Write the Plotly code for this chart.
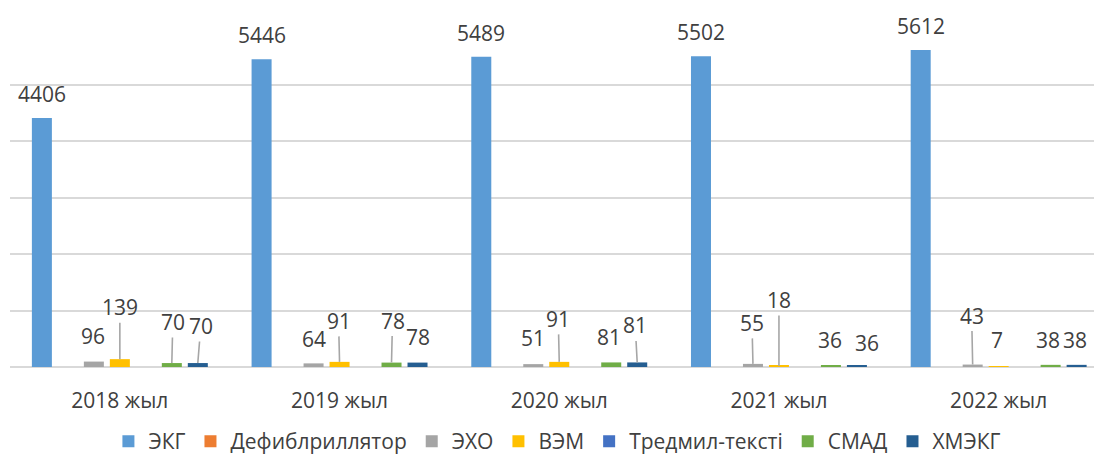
import plotly.graph_objects as go

# Data
years = ["2018 жыл", "2019 жыл", "2020 жыл", "2021 жыл", "2022 жыл"]
series_names = ["ЭКГ", "Дефиблриллятор", "ЭХО", "ВЭМ", "Тредмил-тексті", "СМАД", "ХМЭКГ"]
ekg = [4406, 5446, 5489, 5502, 5612]
defib = [None, None, None, None, None]
echo = [96, 64, 51, 55, 43]
vem = [139, 91, 91, 18, 7]
tredmil = [None, None, None, None, None]
smad = [70, 78, 81, 36, 38]
hmekg = [70, 78, 81, 36, 38]

series_values = [ekg, defib, echo, vem, tredmil, smad, hmekg]
colors = ["#5B9BD5", "#ED7D31", "#A5A5A5", "#FFC000", "#4472C4", "#70AD47", "#255E91"]

# Label placement (pixel offset of label centre from bar top, leader line flag)
label_style = {
    (0, 0): (0, -24, False), (2, 0): (-1, -26, False), (3, 0): (0, -52, True),
    (5, 0): (1, -41, True), (6, 0): (3, -37, True),
    (0, 1): (0, -24, False), (2, 1): (0, -24, False), (3, 1): (-1, -41, True),
    (5, 1): (1, -42, True), (6, 1): (0, -26, False),
    (0, 2): (0, -24, False), (2, 2): (0, -26, False), (3, 2): (-1, -43, True),
    (5, 2): (-2, -25, False), (6, 2): (-2, -37, True),
    (0, 3): (0, -24, False), (2, 3): (-1, -41, True), (3, 3): (0, -66, True),
    (5, 3): (-1, -25, False), (6, 3): (10, -22, False),
    (0, 4): (0, -24, False), (2, 4): (-1, -49, True), (3, 4): (-2, -27, False),
    (5, 4): (-3, -25, False), (6, 4): (-2, -25, False),
}

BARGAP = 0.172
BARGROUPGAP = 0.23
text_color = "#404040"
font_family = "Open Sans"

fig = go.Figure()
for name, vals, col in zip(series_names, series_values, colors):
    fig.add_trace(go.Bar(name=name, x=years, y=vals, marker_color=col,
                         marker_line_width=0))

n_series = len(series_names)
slot = (1 - BARGAP) / n_series
for j, vals in enumerate(series_values):
    for i, v in enumerate(vals):
        if v is None:
            continue
        dx, dy, leader = label_style[(j, i)]
        xpos = i + (j - (n_series - 1) / 2) * slot
        label_font = dict(size=21, color=text_color, family=font_family)
        if leader:
            fig.add_annotation(x=xpos, y=v, text=str(v), showarrow=True,
                               ax=dx, ay=dy, arrowhead=0, arrowwidth=1.6,
                               arrowcolor="#A6A6A6", standoff=0, font=label_font)
        else:
            fig.add_annotation(x=xpos, y=v, text=str(v), showarrow=False,
                               xshift=dx, yshift=-dy,
                               xanchor="center", yanchor="middle", font=label_font)

fig.update_layout(
    width=1094, height=462,
    margin=dict(l=10, r=0, t=28, b=95, autoexpand=False),
    paper_bgcolor="white", plot_bgcolor="white",
    barmode="group", bargap=BARGAP, bargroupgap=BARGROUPGAP,
    font=dict(family=font_family, color=text_color),
    showlegend=True,
    legend=dict(orientation="h", x=0.505, xanchor="center",
                yref="container", y=-0.014, yanchor="bottom",
                font=dict(size=21, color=text_color, family=font_family),
                itemwidth=30, traceorder="normal"),
)
fig.update_xaxes(type="category", range=[-0.5, 4.434], showgrid=False, showline=False,
                 ticks="", ticklabelstandoff=19,
                 tickfont=dict(size=21, color=text_color, family=font_family))
fig.update_yaxes(range=[0, 6000], dtick=1000, showticklabels=False, showgrid=True,
                 gridcolor="#D9D9D9", gridwidth=1.5, zeroline=True,
                 zerolinecolor="#D9D9D9", zerolinewidth=1.5)

fig.write_html("out.html")
